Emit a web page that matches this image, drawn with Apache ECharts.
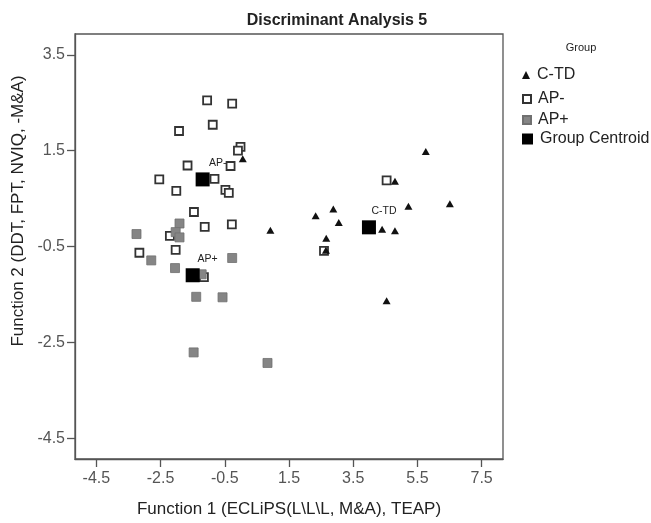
<!DOCTYPE html>
<html>
<head>
<meta charset="utf-8">
<script src="https://cdn.jsdelivr.net/npm/echarts@6/dist/echarts.min.js"></script>
<style>
  html, body { margin: 0; padding: 0; background: #fff; }
  #main { width: 651px; height: 523px; }
</style>
</head>
<body>
<div id="main"></div>
<script>
// tick labels
const xTicks = [-4.5, -2.5, -0.5, 1.5, 3.5, 5.5, 7.5]
const yTicks = [-4.5, -2.5, -0.5, 1.5, 3.5]

// group scores [function 1, function 2]
const ctd = [
  [0.06, 1.33], [0.92, -0.16], [5.76, 1.48], [4.80, 0.86], [5.22, 0.34],
  [6.51, 0.39], [2.33, 0.14], [2.88, 0.28], [3.05, 0.00], [4.40, -0.14],
  [4.80, -0.17], [2.66, -0.33], [2.65, -0.58], [4.54, -1.63],
]
const apMinus = [
  [-1.05, 2.55], [-0.27, 2.48], [-0.875, 2.04], [-1.925, 1.91], [-0.01, 1.58],
  [-0.09, 1.50], [-1.66, 1.19], [-0.32, 1.18], [-0.82, 0.91], [-2.54, 0.90],
  [-2.01, 0.66], [-0.48, 0.68], [-0.375, 0.62], [-1.46, 0.22], [-1.125, -0.09],
  [-0.28, -0.04], [-2.21, -0.28], [-3.16, -0.63], [-2.03, -0.57], [-1.15, -1.14],
  [4.54, 0.88], [2.59, -0.59],
]
const apPlus = [
  [-1.91, -0.02], [-3.25, -0.24], [-2.03, -0.20], [-1.91, -0.31], [-2.79, -0.79],
  [-2.05, -0.95], [-0.27, -0.74], [-1.22, -1.08], [-1.39, -1.55], [-0.57, -1.56],
  [-1.47, -2.71], [0.83, -2.93],
]
// group centroids
const centroidNames = ['AP-', 'AP+', 'C-TD']
const centroids = [[-1.19, 0.90], [-1.50, -1.10], [3.99, -0.10]]

const font = 'Liberation Sans, Arial, sans-serif'

const chart = echarts.init(document.getElementById('main'), null, {renderer: 'canvas'})

const legendBase = {
  orient: 'vertical',
  left: 517,
  itemWidth: 8,
  itemHeight: 8,
  itemGap: 0,
  textStyle: {fontSize: 16, color: '#222', fontFamily: font, padding: [0, 0, 0, 2]},
}

const option = {
  animation: false,
  textStyle: {fontFamily: font},
  title: [
    {
      text: 'Discriminant Analysis 5',
      left: 332,
      top: 8,
      textAlign: 'center',
      textStyle: {fontSize: 16, fontWeight: 'bold', color: '#222', fontFamily: font},
    },
    {
      text: 'Group',
      left: 576,
      top: 37,
      textAlign: 'center',
      textStyle: {fontSize: 11, fontWeight: 'normal', color: '#222', fontFamily: font},
    },
  ],
  legend: [
    {...legendBase, top: 62, data: ['C-TD']},
    {...legendBase, top: 86, data: ['AP-']},
    {...legendBase, top: 107, data: ['AP+']},
    {...legendBase, top: 126, itemWidth: 11, itemHeight: 11, data: ['Group Centroid']},
  ],
  grid: {
    left: 75,
    right: 148,
    top: 34,
    bottom: 60,
    show: true,
    borderColor: '#555',
    borderWidth: 1.3,
  },
  xAxis: {
    type: 'value',
    min: -5.165,
    max: 8.165,
    name: 'Function 1 (ECLiPS(L\\L\\L, M&A), TEAP)',
    nameLocation: 'middle',
    nameGap: 42,
    nameTextStyle: {fontSize: 17, color: '#222', fontFamily: font},
    axisLine: {show: true, onZero: false, lineStyle: {color: '#555', width: 1.3}},
    axisTick: {show: true, length: 8, customValues: xTicks, lineStyle: {color: '#555', width: 1.3}},
    axisLabel: {customValues: xTicks, margin: 12, fontSize: 16, color: '#555', fontFamily: font},
    splitLine: {show: false},
  },
  yAxis: {
    type: 'value',
    min: -4.934,
    max: 3.934,
    axisLine: {show: true, onZero: false, lineStyle: {color: '#555', width: 1.3}},
    axisTick: {show: true, length: 8, customValues: yTicks, lineStyle: {color: '#555', width: 1.3}},
    axisLabel: {customValues: yTicks, margin: 10, fontSize: 16, color: '#555', fontFamily: font},
    splitLine: {show: false},
  },
  graphic: [
    {
      type: 'text',
      x: 18,
      y: 211,
      rotation: Math.PI / 2,
      style: {
        text: 'Function 2 (DDT, FPT, NVIQ, -M&A)',
        fontSize: 17,
        fontFamily: font,
        fill: '#222',
        align: 'center',
        verticalAlign: 'middle',
      },
    },
  ],
  series: [
    {
      name: 'C-TD',
      type: 'scatter',
      data: ctd,
      symbol: 'triangle',
      symbolSize: [8, 7],
      z: 4,
      itemStyle: {color: '#111', opacity: 1},
    },
    {
      name: 'AP-',
      type: 'scatter',
      data: apMinus,
      symbol: 'rect',
      symbolSize: 8,
      z: 2,
      itemStyle: {color: '#fff', borderColor: '#333', borderWidth: 1.8, opacity: 1},
    },
    {
      name: 'AP+',
      type: 'scatter',
      data: apPlus,
      symbol: 'rect',
      symbolSize: 9,
      z: 3,
      itemStyle: {color: '#858585', borderColor: '#707070', borderWidth: 0.8, opacity: 1},
    },
    {
      name: 'Group Centroid',
      type: 'scatter',
      data: centroids,
      symbol: 'rect',
      symbolSize: 14,
      z: 5,
      itemStyle: {color: '#000', opacity: 1},
      label: {
        show: true,
        position: 'inside',
        offset: [15, -16],
        fontSize: 10.5,
        color: '#222',
        fontFamily: font,
        formatter: p => centroidNames[p.dataIndex],
      },
    },
  ],
}

chart.setOption(option)
</script>
</body>
</html>
